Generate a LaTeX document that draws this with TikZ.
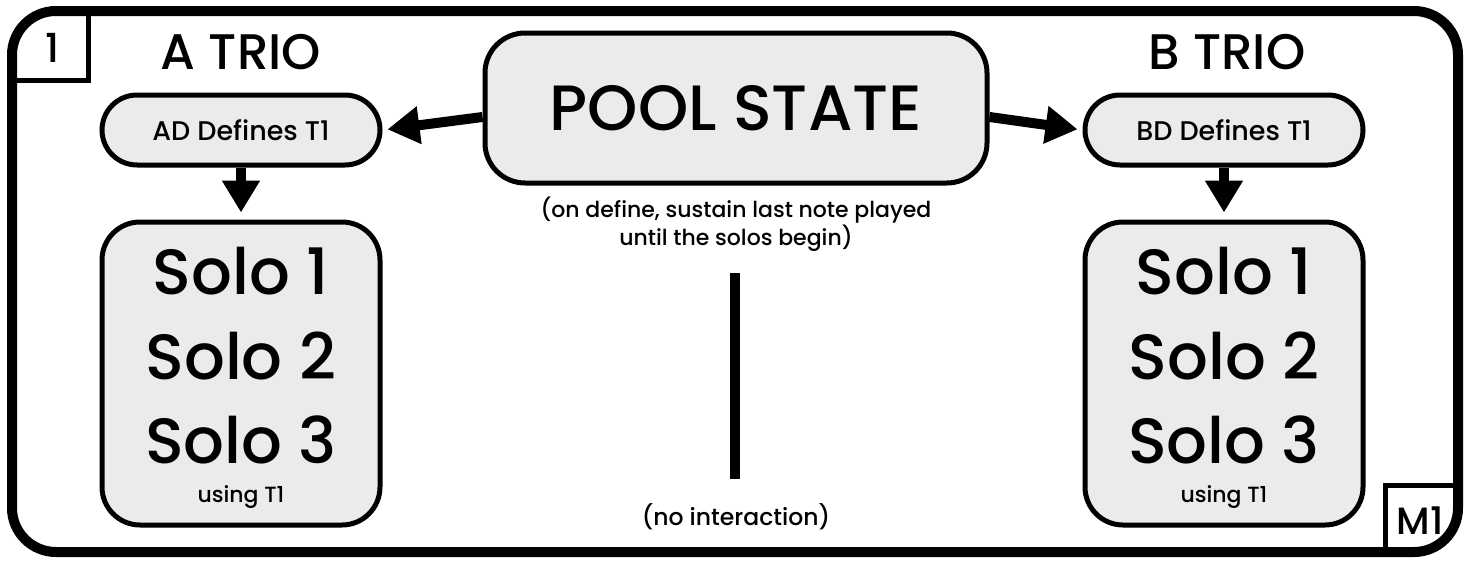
\documentclass[tikz,border=0pt]{standalone}
\usepackage{fontspec}
\setmainfont{Poppins Medium}
\usetikzlibrary{arrows.meta,calc}

\definecolor{boxgrey}{HTML}{EBEBEB}

\tikzset{
  frame/.style={line width=10pt, rounded corners=44pt},
  tab/.style={line width=5pt},
  greybox/.style={draw, fill=boxgrey, line width=5pt, inner sep=0pt},
  pill/.style={greybox, rounded corners=35pt, minimum width=278pt, minimum height=70pt,
    font=\fontsize{27}{27}\selectfont},
  flow/.style={line width=10pt, -{Triangle[length=32pt,width=36pt]}},
  plain/.style={inner sep=0pt},
}

\begin{document}
\begin{tikzpicture}[x=1pt,y=-1pt]
\useasboundingbox (0,0) rectangle (1473,562);

% outer frame with the corner tabs
\draw[frame] (12,11) rectangle (1458,552);
\draw[tab] (14,80) -- (88,80) -- (88,14);
\draw[tab] (1385,550) -- (1385,485) -- (1456,485);
\node[plain, font=\fontsize{40}{40}\selectfont] (num) at (52,48) {1};
\node[plain, font=\fontsize{38}{38}\selectfont] (mark) at (1420,521) {M1};

% titles
\node[plain, font=\fontsize{50}{50}\selectfont] (atitle) at (241,52) {A TRIO};
\node[plain, font=\fontsize{50}{50}\selectfont] (btitle) at (1227,52) {B TRIO};

% central pool
\node[greybox, rounded corners=40pt, minimum width=502pt, minimum height=150pt,
      font=\fontsize{64}{64}\selectfont] (pool) at (736,108) {POOL STATE};
\node[plain, align=center, font=\fontsize{22}{28}\selectfont] (note) at (736,224)
  {(on define, sustain last note played\\until the solos begin)};

% define steps
\node[pill] (ad) at (241,130) {AD Defines T1};
\node[pill] (bd) at (1224,130) {BD Defines T1};

% solo boxes
\node[greybox, rounded corners=38pt, minimum width=278pt, minimum height=303pt] (sa) at (241,373.5) {};
\node[greybox, rounded corners=38pt, minimum width=278pt, minimum height=303pt] (sb) at (1224,373.5) {};

\foreach \b/\x in {a/241,b/1224}{
  \node[plain, font=\fontsize{64}{64}\selectfont, anchor=base] (s\b1) at (\x,294) {Solo 1};
  \node[plain, font=\fontsize{64}{64}\selectfont, anchor=base] (s\b2) at (\x,379) {Solo 2};
  \node[plain, font=\fontsize{64}{64}\selectfont, anchor=base] (s\b3) at (\x,463) {Solo 3};
  \node[plain, font=\fontsize{22}{22}\selectfont, anchor=base] (u\b) at (\x,502) {using T1};
}

% connectors
\draw[flow, shorten >=5pt] ($(pool.west)+(0,9)$) -- (ad.east);
\draw[flow, shorten >=5pt] ($(pool.east)+(0,9)$) -- (bd.west);
\draw[flow, shorten >=7pt] (ad.south) -- (sa.north);
\draw[flow, shorten >=7pt] (bd.south) -- (sb.north);

% separator between the trios
\coordinate (sepTop) at (735,273);
\coordinate (sepBot) at (735,479);
\draw[line width=10pt] (sepTop) -- (sepBot);
\node[plain, font=\fontsize{23.5}{23.5}\selectfont] (noint) at (736,517) {(no interaction)};
\end{tikzpicture}
\end{document}
